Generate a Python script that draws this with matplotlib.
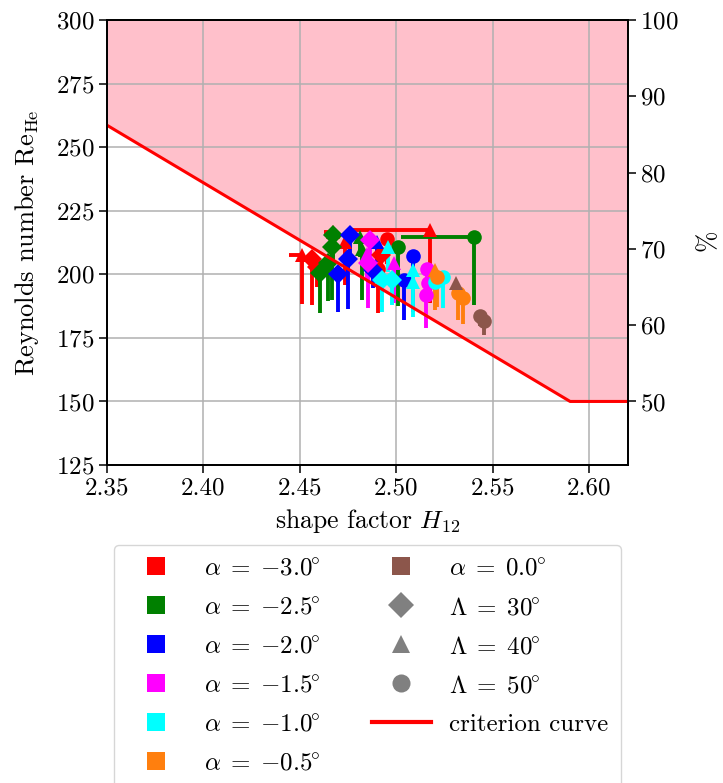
import matplotlib
matplotlib.use("Agg")
import matplotlib.pyplot as plt
from matplotlib.lines import Line2D
import numpy as np

plt.rcParams["font.family"] = "serif"
plt.rcParams["font.serif"] = ["cmr10"]
plt.rcParams["mathtext.fontset"] = "cm"
plt.rcParams["axes.formatter.use_mathtext"] = True
plt.rcParams["font.size"] = 18

# Measurements per angle of attack: (sweep angle, H12, Re_He, dH12 low, dRe low)
pts_m30 = [(40, 2.4509, 207.5, 0.0066, 19.0), (30, 2.4561, 206.1, 0.003, 18.3),
           (30, 2.4587, 202.9, 0.0, 7.9), (40, 2.4671, 216.8, 0.0047, 10.0),
           (40, 2.4733, 212.7, 0.0, 17.0), (40, 2.5174, 217.3, 0.0425, 28.6),
           (50, 2.4950, 214.0, 0.0, 10.0), (30, 2.4920, 207.6, 0.0, 8.0),
           (50, 2.4906, 202.2, 0.0, 17.3)]
pts_m25 = [(30, 2.4673, 215.3, 0.0, 10.0), (30, 2.4665, 210.7, 0.0, 20.8),
           (30, 2.4604, 200.4, 0.0, 15.7), (30, 2.4647, 204.3, 0.0, 15.0),
           (40, 2.4811, 214.7, 0.0, 8.0), (40, 2.4820, 210.1, 0.0, 20.3),
           (50, 2.5010, 210.7, 0.0, 23.2), (50, 2.5402, 214.8, 0.0378, 26.9)]
pts_m20 = [(30, 2.4759, 215.3, 0.0, 10.0), (30, 2.4751, 206.1, 0.0, 19.7),
           (30, 2.4699, 200.2, 0.0, 15.0), (40, 2.4898, 212.7, 0.0, 8.0),
           (50, 2.5084, 207.2, 0.0, 21.9), (50, 2.5039, 197.8, 0.0, 15.7),
           (30, 2.4880, 201.5, 0.0, 7.0)]
pts_m15 = [(30, 2.4863, 213.5, 0.0, 8.0), (30, 2.4854, 204.3, 0.0, 17.7),
           (40, 2.4846, 208.1, 0.0, 10.0), (40, 2.4987, 204.3, 0.0, 15.6),
           (50, 2.5157, 202.0, 0.0, 5.0), (50, 2.5165, 196.7, 0.0, 5.0),
           (50, 2.5153, 191.9, 0.0, 13.0)]
pts_m10 = [(40, 2.4958, 210.9, 0.0, 10.0), (30, 2.4924, 197.8, 0.0, 12.5),
           (30, 2.4975, 197.8, 0.0, 10.0), (40, 2.5087, 201.7, 0.0, 8.0),
           (40, 2.5087, 197.1, 0.0, 13.8), (50, 2.5243, 199.1, 0.0, 12.4),
           (50, 2.5200, 197.0, 0.0, 10.0)]
pts_m05 = [(40, 2.5200, 201.7, 0.0, 15.7), (50, 2.5209, 199.1, 0.0, 12.0),
           (50, 2.5320, 192.5, 0.0, 10.5), (50, 2.5347, 190.6, 0.0, 10.0)]
pts_p00 = [(40, 2.5309, 196.5, 0.0, 3.0), (50, 2.5433, 183.6, 0.0, 4.0),
           (50, 2.5454, 181.8, 0.0, 5.6)]

alphas = [-3.0, -2.5, -2.0, -1.5, -1.0, -0.5, 0.0]
alpha_colors = ["red", "green", "blue", "magenta", "cyan", "tab:orange", "tab:brown"]
series = [pts_m30, pts_m25, pts_m20, pts_m15, pts_m10, pts_m05, pts_p00]

sweeps = [30, 40, 50]
sweep_markers = {30: "D", 40: "^", 50: "o"}

# Transition criterion curve
crit_h = [2.35, 2.59, 2.62]
crit_re = [258.6, 150.0, 150.0]

fig = plt.figure(figsize=(7.23, 7.83), dpi=100)
ax = fig.add_axes([0.148, 0.4061, 0.7206, 0.5684])

ax.fill_between(crit_h, crit_re, 300, color="pink", zorder=1, linewidth=0)
ax.plot(crit_h, crit_re, color="red", lw=2.2, zorder=10)

for pts, col in zip(series, alpha_colors):
    for lam, h, re, dh, dre in pts:
        ax.errorbar([h], [re], xerr=[[dh], [0]], yerr=[[dre], [0]],
                    fmt=sweep_markers[lam], color=col, ms=10.5, mew=0,
                    elinewidth=2.8, capsize=0, zorder=3)

ax.set_xlim(2.35, 2.62)
ax.set_ylim(125, 300)
ax.set_xticks([2.35, 2.40, 2.45, 2.50, 2.55, 2.60])
ax.set_yticks(np.arange(125, 301, 25))
ax.xaxis.set_major_formatter(matplotlib.ticker.FormatStrFormatter("%.2f"))
ax.grid(True, color="#b0b0b0", lw=1.1)
ax.tick_params(length=5.5, width=1.1)
for s in ax.spines.values():
    s.set_linewidth(1.3)
ax.set_xlabel(r"shape factor $H_{12}$", fontsize=18.5, labelpad=5)
ax.set_ylabel(r"Reynolds number $\mathrm{Re}_{\mathrm{He}}$", fontsize=19, labelpad=11)

ax2 = ax.twinx()
ax2.set_ylim(125 / 3, 100)
ax2.set_yticks(np.arange(50, 101, 10))
ax2.tick_params(length=5.5, width=1.1)
ax2.set_ylabel(r"$\%$", labelpad=12, fontsize=18.5)
for s in ax2.spines.values():
    s.set_linewidth(1.3)

handles = [Line2D([], [], ls="none", marker="s", ms=13, mew=0, color=c) for c in alpha_colors]
labels = [r"$\alpha \;=\; {%.1f}^{\!\!\circ}$" % a for a in alphas]
handles += [Line2D([], [], ls="none", marker=sweep_markers[l], ms=13, mew=0, color="gray") for l in sweeps]
labels += [r"$\Lambda \;=\; %d^{\!\!\circ}$" % l for l in sweeps]
handles.append(Line2D([], [], color="red", lw=3))
labels.append("criterion curve")

ax.legend(handles, labels, ncol=2, loc="upper center", bbox_to_anchor=(0.5, -0.18),
          borderaxespad=0, fontsize=18, handlelength=2.35, handletextpad=0.75,
          columnspacing=2.05, labelspacing=0.66, borderpad=0.5,
          edgecolor="#cccccc", fancybox=True)

fig.savefig("out.png", dpi=100)
